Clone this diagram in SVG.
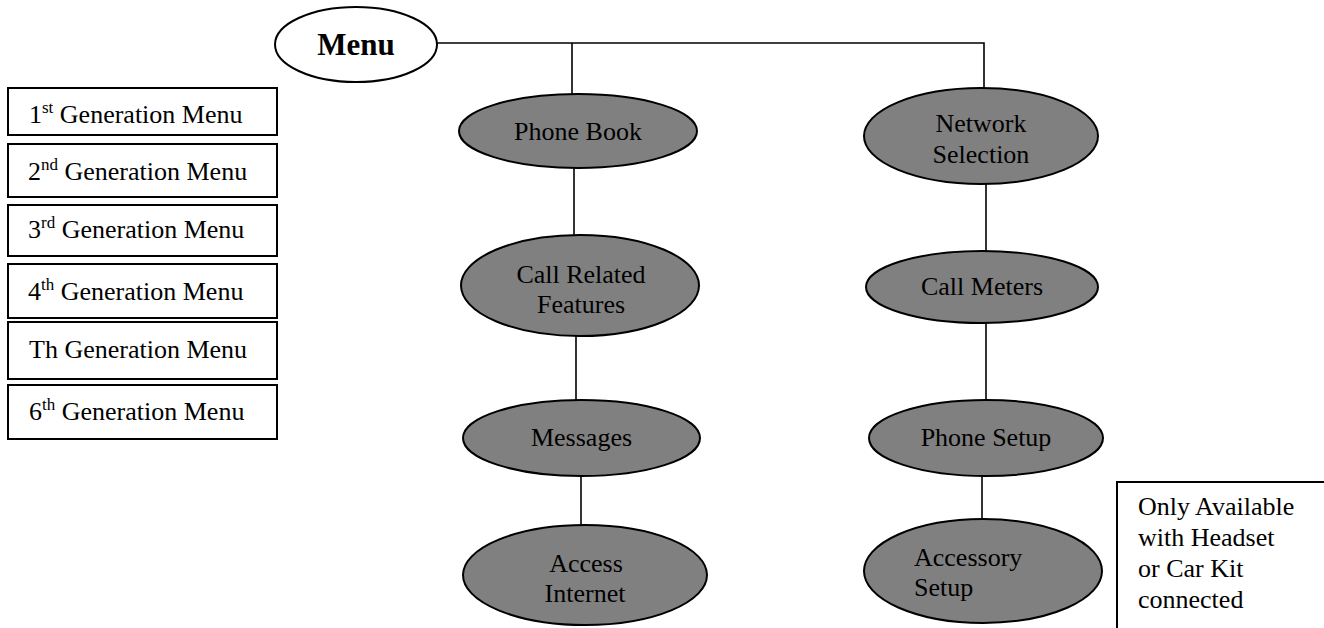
<svg xmlns="http://www.w3.org/2000/svg" width="1324" height="628" viewBox="0 0 1324 628">
<style>
text{font-family:"Liberation Serif","Times New Roman",serif;font-size:26px;fill:#000}
.n{fill:#808080;stroke:#000;stroke-width:2}
.b{fill:#fff;stroke:#000;stroke-width:2}
.c{fill:none;stroke:#000;stroke-width:1.6}
.m{text-anchor:middle}
.sup{font-size:17px}
</style>
<rect width="1324" height="628" fill="#fff"/>
<g id="connectors">
<polyline class="c" points="437,43 984,43 984,88"/>
<line class="c" x1="572" y1="43" x2="572" y2="94"/>
<line class="c" x1="574" y1="168" x2="574" y2="235"/>
<line class="c" x1="576" y1="336" x2="576" y2="400"/>
<line class="c" x1="581" y1="476" x2="581" y2="525"/>
<line class="c" x1="986" y1="184" x2="986" y2="251"/>
<line class="c" x1="986" y1="323" x2="986" y2="400"/>
<line class="c" x1="982" y1="476" x2="982" y2="519"/>
</g>
<g id="menu">
<ellipse cx="356" cy="44.5" rx="81" ry="37.5" fill="#fff" stroke="#000" stroke-width="2"/>
<text x="356" y="55" class="m" style="font-weight:bold;font-size:31px">Menu</text>
</g>
<g id="gen1"><rect class="b" x="8" y="88" width="269" height="47"/><text x="29" y="123">1<tspan class="sup" dy="-10">st</tspan><tspan dy="10"> Generation Menu</tspan></text></g>
<g id="gen2"><rect class="b" x="8" y="144" width="269" height="53"/><text x="28" y="180">2<tspan class="sup" dy="-10">nd</tspan><tspan dy="10"> Generation Menu</tspan></text></g>
<g id="gen3"><rect class="b" x="8" y="205" width="269" height="51"/><text x="28" y="238">3<tspan class="sup" dy="-10">rd</tspan><tspan dy="10"> Generation Menu</tspan></text></g>
<g id="gen4"><rect class="b" x="8" y="264" width="269" height="54"/><text x="28" y="300">4<tspan class="sup" dy="-10">th</tspan><tspan dy="10"> Generation Menu</tspan></text></g>
<g id="gen5"><rect class="b" x="8" y="322" width="269" height="57"/><text x="29" y="358">Th Generation Menu</text></g>
<g id="gen6"><rect class="b" x="8" y="385" width="269" height="54"/><text x="29" y="420">6<tspan class="sup" dy="-10">th</tspan><tspan dy="10"> Generation Menu</tspan></text></g>
<g id="phonebook"><ellipse class="n" cx="578" cy="131" rx="119" ry="37"/><text x="578" y="140" class="m">Phone Book</text></g>
<g id="callrelated"><ellipse class="n" cx="580" cy="285.5" rx="119" ry="50.5"/><text x="581" y="283" class="m">Call Related</text><text x="581" y="313" class="m">Features</text></g>
<g id="messages"><ellipse class="n" cx="581.5" cy="438" rx="118.5" ry="38"/><text x="581.5" y="446" class="m">Messages</text></g>
<g id="internet"><ellipse class="n" cx="585" cy="575" rx="122" ry="50"/><text x="586" y="572" class="m">Access</text><text x="585" y="602" class="m">Internet</text></g>
<g id="network"><ellipse class="n" cx="981" cy="136" rx="117" ry="48"/><text x="981" y="132" class="m">Network</text><text x="981" y="163" class="m">Selection</text></g>
<g id="callmeters"><ellipse class="n" cx="982" cy="287" rx="116" ry="36"/><text x="982" y="295" class="m">Call Meters</text></g>
<g id="phonesetup"><ellipse class="n" cx="986" cy="438" rx="117" ry="38"/><text x="986" y="446" class="m">Phone Setup</text></g>
<g id="accessory"><ellipse class="n" cx="983" cy="571" rx="119" ry="52"/><text x="914" y="566">Accessory</text><text x="914" y="596">Setup</text></g>
<g id="note"><rect class="b" x="1117" y="482" width="220" height="160"/>
<text x="1138" y="515">Only Available</text><text x="1138" y="546">with Headset</text><text x="1138" y="577">or Car Kit</text><text x="1138" y="608">connected</text></g>
</svg>
